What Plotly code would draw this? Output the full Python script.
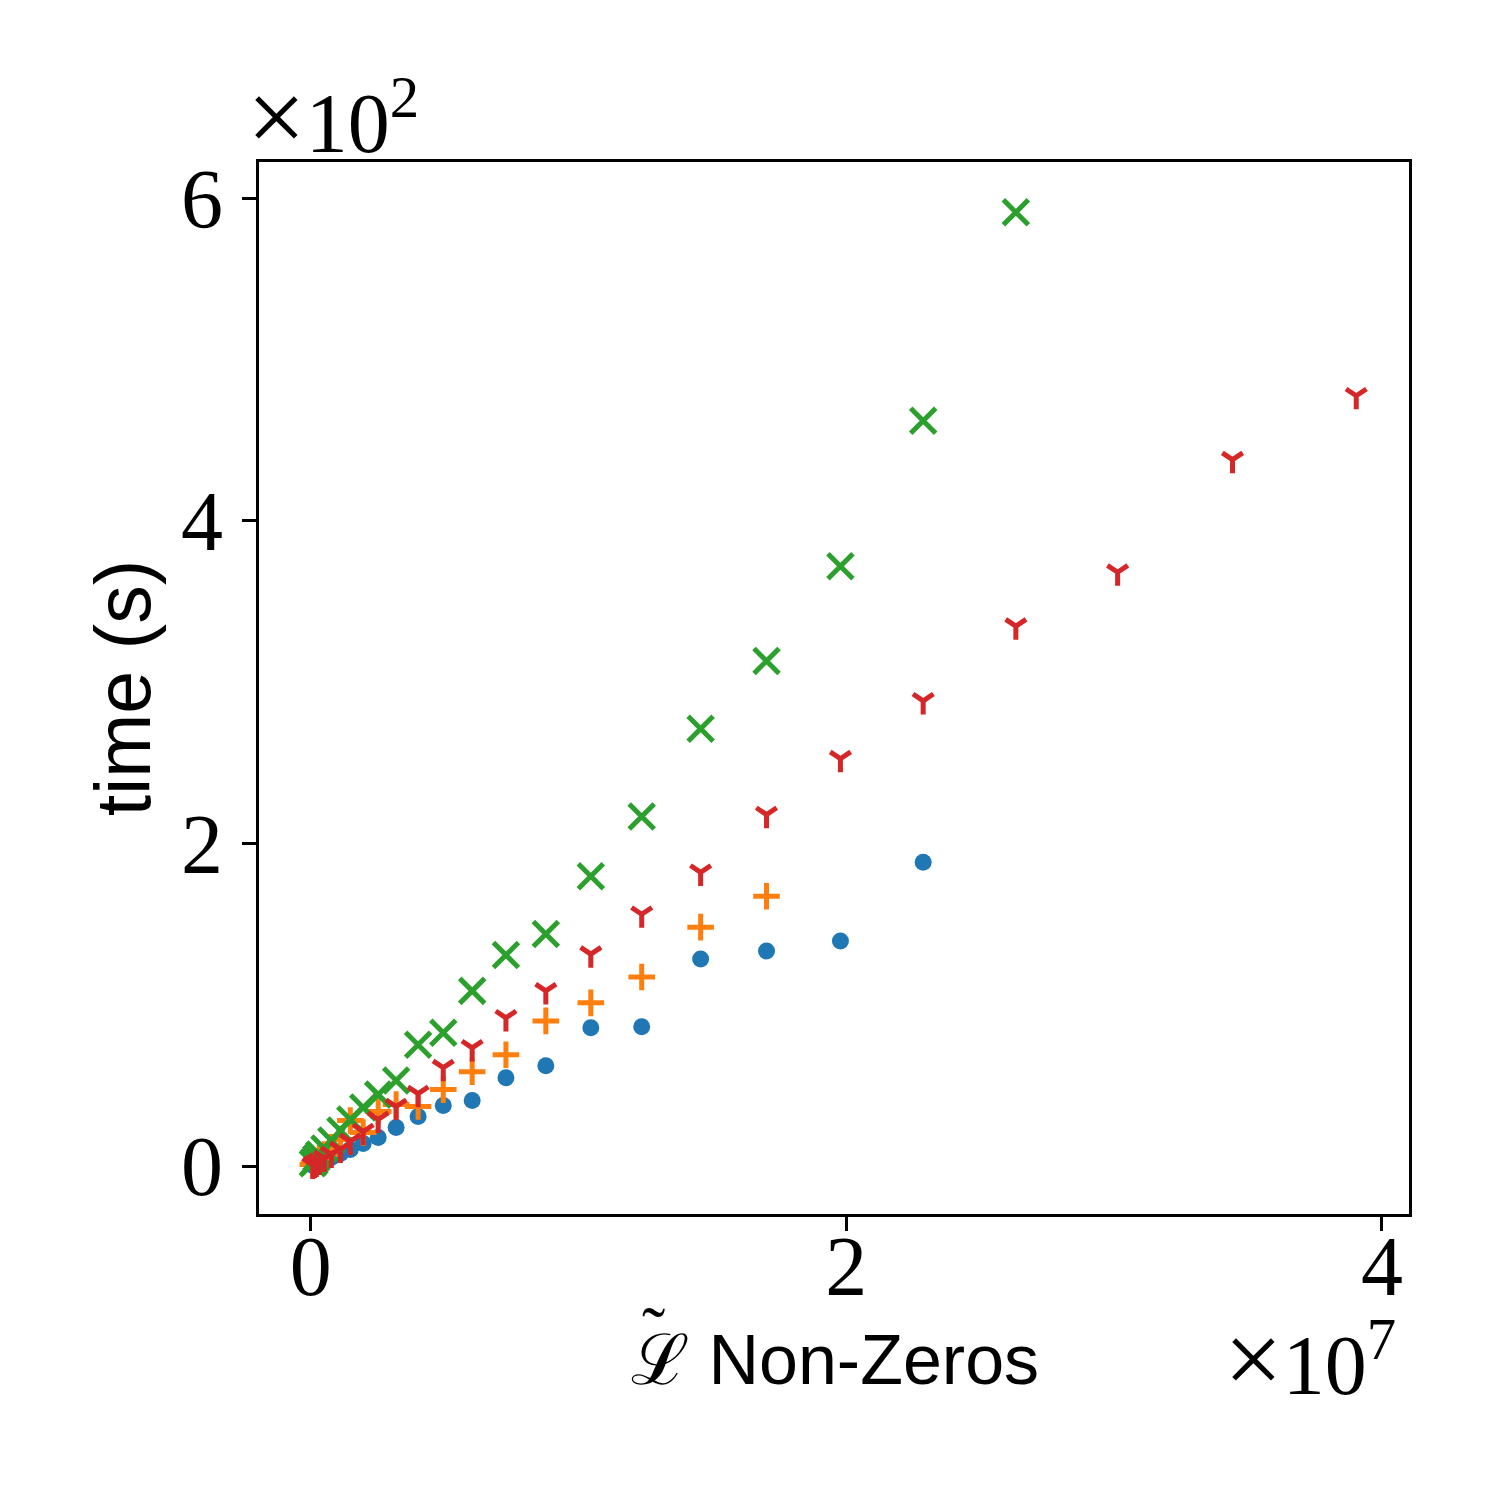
import plotly.graph_objects as go

# non-zeros of L~ (shared sizes); each series covers the first n of these
nnz = [0.008e7, 0.014e7, 0.021e7, 0.032e7, 0.051e7, 0.077e7, 0.111e7, 0.148e7,
       0.196e7, 0.252e7, 0.319e7, 0.401e7, 0.495e7, 0.603e7, 0.729e7, 0.878e7,
       1.046e7, 1.236e7, 1.456e7, 1.702e7, 1.978e7, 2.287e7, 2.633e7, 3.013e7,
       3.442e7, 3.904e7]

# time in seconds
t_blue = [0.4, 0.7, 1.4, 2.3, 3.5, 5.4, 7.8, 10.3, 14.0, 17.7, 23.9, 30.7, 37.5,
          40.6, 54.8, 62.2, 85.7, 86.3, 128.3, 133.3, 139.5, 188.3]
t_orange = [1.0, 1.7, 2.9, 4.8, 7.2, 11.6, 16.5, 28.2, 20.8, 33.8, 38.1, 36.9,
            47.4, 58.5, 69.0, 90.0, 101.2, 117.2, 148.1, 167.3]
t_green = [1.7, 2.9, 4.8, 7.2, 10.9, 15.9, 22.1, 28.9, 36.3, 44.3, 53.0, 75.2,
           82.6, 108.6, 130.8, 143.8, 179.6, 216.7, 271.1, 313.1, 371.8, 462.0, 591.2]
t_red = [0.5, 1.1, 1.7, 2.9, 4.8, 7.2, 10.3, 15.3, 21.4, 28.9, 36.9, 44.9, 61.0,
         73.3, 91.9, 108.6, 131.4, 156.1, 182.1, 217.9, 252.5, 288.4, 334.7,
         368.1, 437.9, 477.5]

x_ticks = [0, 2e7, 4e7]
x_tick_text = ["0", "2", "4"]
y_ticks = [0, 200, 400, 600]
y_tick_text = ["0", "2", "4", "6"]

SERIF = "Liberation Serif"
SANS = "Liberation Sans"

series = [
    (t_blue, "#1f77b4", "circle", 17),
    (t_orange, "#ff7f0e", "cross-thin", 19),
    (t_green, "#2ca02c", "x-thin", 25),
    (t_red, "#d62728", "y-down", 17),
]

fig = go.Figure()
for ys, col, sym, sz in series:
    fig.add_trace(go.Scatter(
        x=nnz[:len(ys)], y=ys, mode="markers", showlegend=False,
        marker=dict(symbol=sym, size=sz, color=col,
                    line=dict(color=col, width=5 if sym != "circle" else 0)),
    ))

axis_common = dict(showgrid=False, zeroline=False, showline=True, mirror=True,
                   linecolor="black", linewidth=3.3, ticks="outside",
                   ticklen=14, tickwidth=3.3, tickcolor="black",
                   tickfont=dict(family=SERIF, size=84, color="black"))

fig.update_xaxes(range=[-0.193e7, 4.101e7], tickvals=x_ticks, ticktext=x_tick_text,
                 ticklabelstandoff=-37, **axis_common)
fig.update_yaxes(range=[-29.7, 622.4], tickvals=y_ticks, ticktext=y_tick_text,
                 ticklabelstandoff=2, **axis_common)

big_times = "<span style='font-size:104px'>×</span>"

fig.update_layout(
    width=1500, height=1500,
    margin=dict(l=251, r=99, t=154, b=294),
    paper_bgcolor="white", plot_bgcolor="white",
    annotations=[
        dict(text="time (s)", textangle=-90, xref="paper", yref="paper",
             x=-0.118, y=0.5, xanchor="center", yanchor="middle", showarrow=False,
             font=dict(family=SANS, size=77, color="black")),
        dict(text="ℒ Non-Zeros",
             xref="paper", yref="paper", x=0.501, y=-0.139,
             xanchor="center", yanchor="middle", showarrow=False,
             font=dict(family=SANS, size=70, color="black")),
        dict(text="˜", xref="paper", yref="paper", x=0.343, y=-0.112,
             xanchor="center", yanchor="middle", showarrow=False,
             font=dict(family=SERIF, size=70, color="black")),
        dict(text=big_times + "10<sup>7</sup>", xref="paper", yref="paper",
             x=0.99, y=-0.137, xanchor="right", yanchor="middle", showarrow=False,
             font=dict(family=SERIF, size=84, color="black")),
        dict(text=big_times + "10<sup>2</sup>", xref="paper", yref="paper",
             x=-0.012, y=0.987, xanchor="left", yanchor="bottom", showarrow=False,
             font=dict(family=SERIF, size=84, color="black")),
    ],
)

fig.write_html("out.html")
